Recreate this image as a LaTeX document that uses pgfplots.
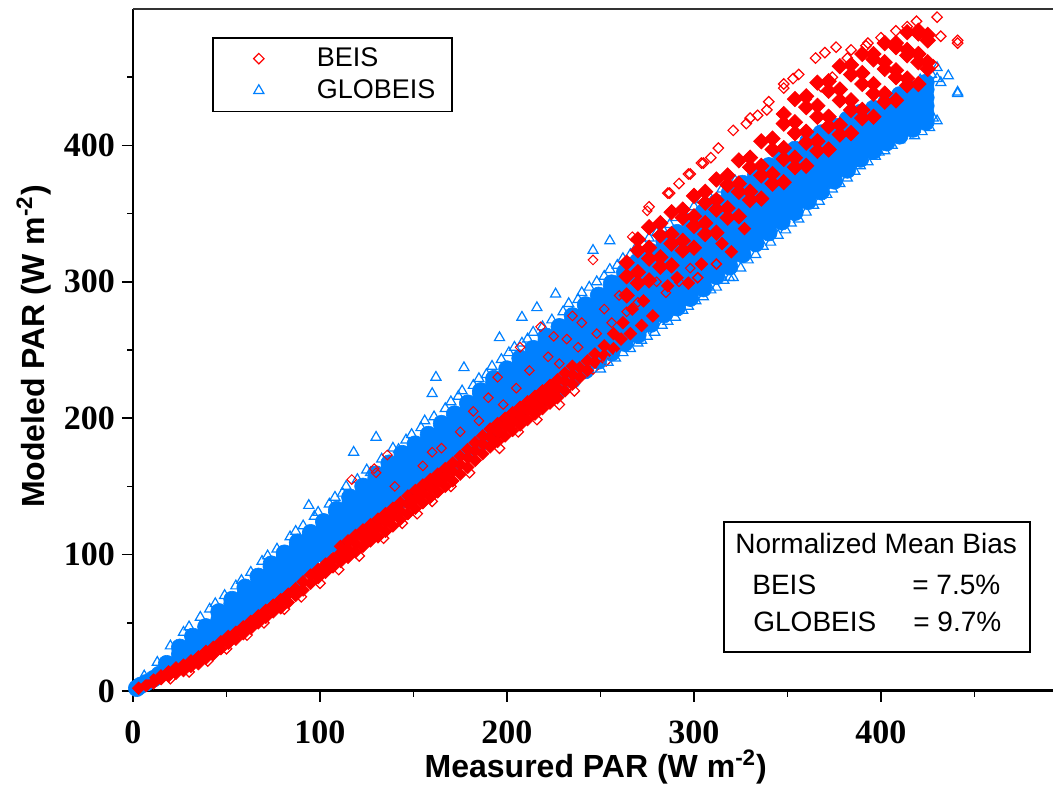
\documentclass[border=0pt]{standalone}
\usepackage{pgfplots}
\pgfplotsset{compat=1.18}
\usepackage{fontspec}
\setmainfont{Liberation Sans}
\newfontfamily\tickfont{Liberation Serif}
\definecolor{beis}{RGB}{255,0,0}
\definecolor{globeis}{RGB}{0,128,255}
\begin{document}
\begin{tikzpicture}
\begin{axis}[name=ax,
  scale only axis, width=460pt, height=341pt,
  xmin=0, xmax=492, ymin=0, ymax=500,
  axis x line*=bottom, axis y line*=left,
  x axis line style={-, line width=1.5pt},
  y axis line style={-, line width=1pt},
  xtick={0,100,200,300,400}, ytick={0,100,200,300,400},
  minor xtick={50,150,250,350,450}, minor ytick={50,150,250,350,450},
  tick align=outside, major tick length=5.5pt, minor tick length=2.8pt,
  tick style={line width=0.8pt, black},
  /pgf/number format/assume math mode=true,
  tick label style={font=\tickfont\bfseries\fontsize{17}{17}\selectfont},
  xticklabel style={yshift=-6pt},
  xlabel={Measured PAR (W m\textsuperscript{-2})},
  ylabel={Modeled PAR (W m\textsuperscript{-2})},
  label style={font=\bfseries\fontsize{16}{16}\selectfont},
  xlabel style={at={(axis description cs:0.503,-0.1114)}, anchor=center},
  ylabel style={at={(axis description cs:-0.1076,0.505)}, anchor=center},
  clip=false,
  legend image code/.code={\path[draw=none] (0pt,0pt) (46pt,0pt); \draw[#1] plot[only marks] coordinates {(19pt,0pt)};},
  legend style={at={(0.0859,0.959)}, anchor=north west, draw=black, line width=0.8pt,
    font=\fontsize{13.5}{16}\selectfont, inner xsep=4pt, inner ysep=3pt, row sep=1pt,
    cells={anchor=west}},
]
\addlegendimage{color=beis, line width=0.6pt, mark=square, mark size=1.85pt, mark options={rotate=45}}
\addlegendentry{BEIS}
\addlegendimage{color=globeis, line width=0.6pt, mark=triangle, mark size=2.9pt}
\addlegendentry{GLOBEIS\,}

% GLOBEIS dense core
\addplot[forget plot, only marks, color=globeis, mark=*, mark size=4.2pt, mark options={fill=globeis, line width=0.3pt}] coordinates {
(2,2)(4,4)(7,6)(11,9)(14,12)(18,15)(18,20)(21,19)(25,22)(25,27)(25,32)
(32,29)(32,34)(32,40)(39,35)(39,41)(39,47)(46,40)(46,46)(46,52)(46,58)
(53,46)(53,52)(53,58)(53,64)(53,67)(60,53)(60,59)(60,65)(60,71)(60,76)
(67,60)(67,66)(67,72)(67,78)(67,84)(74,67)(74,73)(74,79)(74,85)(74,91)(74,93)
(81,74)(81,80)(81,86)(81,92)(81,98)(81,101)(88,82)(88,88)(88,94)(88,100)(88,106)(88,109)
(95,90)(95,96)(95,102)(95,108)(95,114)(95,116)(102,100)(102,106)(102,112)(102,118)(102,124)
(109,107)(109,113)(109,119)(109,125)(109,131)(109,133)(116,113)(116,119)(116,125)(116,131)(116,137)(116,142)
(123,120)(123,126)(123,132)(123,138)(123,144)(123,150)
(130,126)(130,132)(130,138)(130,144)(130,150)(130,156)(130,159)
(137,133)(137,139)(137,145)(137,151)(137,157)(137,163)(137,167)
(144,140)(144,146)(144,152)(144,158)(144,164)(144,170)(144,174)
(151,147)(151,153)(151,159)(151,165)(151,171)(151,177)(151,181)
(158,153)(158,159)(158,165)(158,171)(158,177)(158,183)(158,188)
(165,160)(165,166)(165,172)(165,178)(165,184)(165,190)(165,196)
(172,167)(172,173)(172,179)(172,185)(172,191)(172,197)(172,203)
(179,175)(179,181)(179,187)(179,193)(179,199)(179,205)(179,211)
(186,182)(186,188)(186,194)(186,200)(186,206)(186,212)(186,218)(186,220)
(193,190)(193,196)(193,202)(193,208)(193,214)(193,220)(193,226)(193,229)
(200,197)(200,203)(200,209)(200,215)(200,221)(200,227)(200,233)(200,236)
(207,203)(207,209)(207,215)(207,221)(207,227)(207,233)(207,239)(207,244)
(214,209)(214,215)(214,221)(214,227)(214,233)(214,239)(214,245)(214,251)
(221,215)(221,221)(221,227)(221,233)(221,239)(221,245)(221,251)(221,257)(221,260)
(228,221)(228,227)(228,233)(228,239)(228,245)(228,251)(228,257)(228,263)(228,267)
(235,228)(235,234)(235,240)(235,246)(235,252)(235,258)(235,264)(235,270)(235,275)
(242,235)(242,241)(242,247)(242,253)(242,259)(242,265)(242,271)(242,277)(242,283)
(249,242)(249,248)(249,254)(249,260)(249,266)(249,272)(249,278)(249,284)(249,290)
(256,248)(256,254)(256,260)(256,266)(256,272)(256,278)(256,284)(256,290)(256,296)(256,299)
(263,255)(263,261)(263,267)(263,273)(263,279)(263,285)(263,291)(263,297)(263,303)(263,307)
(270,261)(270,267)(270,273)(270,279)(270,285)(270,291)(270,297)(270,303)(270,309)(270,315)
(277,269)(277,275)(277,281)(277,287)(277,293)(277,299)(277,305)(277,311)(277,317)(277,322)
(284,276)(284,282)(284,288)(284,294)(284,300)(284,306)(284,312)(284,318)(284,324)(284,330)
(291,281)(291,287)(291,293)(291,299)(291,305)(291,311)(291,317)(291,323)(291,329)(291,336)
(298,288)(298,294)(298,300)(298,306)(298,312)(298,318)(298,324)(298,330)(298,336)(298,344)
(305,295)(305,301)(305,307)(305,313)(305,319)(305,325)(305,331)(305,337)(305,343)(305,351)
(312,304)(312,310)(312,316)(312,322)(312,328)(312,334)(312,340)(312,346)(312,352)(312,358)
(319,311)(319,317)(319,323)(319,329)(319,335)(319,341)(319,347)(319,353)(319,359)(319,365)
(326,320)(326,326)(326,332)(326,338)(326,344)(326,350)(326,356)(326,362)(326,368)(326,372)
(333,328)(333,334)(333,340)(333,346)(333,352)(333,358)(333,364)(333,370)(333,378)
(340,336)(340,342)(340,348)(340,354)(340,360)(340,366)(340,372)(340,378)(340,385)
(347,344)(347,350)(347,356)(347,362)(347,368)(347,374)(347,380)(347,386)(347,391)
(354,351)(354,357)(354,363)(354,369)(354,375)(354,381)(354,387)(354,393)(354,397)
(361,359)(361,365)(361,371)(361,377)(361,383)(361,389)(361,395)(361,403)
(368,366)(368,372)(368,378)(368,384)(368,390)(368,396)(368,402)(368,409)
(375,374)(375,380)(375,386)(375,392)(375,398)(375,404)(375,410)(375,414)
(382,382)(382,388)(382,394)(382,400)(382,406)(382,412)(382,419)
(389,390)(389,396)(389,402)(389,408)(389,414)(389,420)(389,424)
(396,396)(396,402)(396,408)(396,414)(396,420)(396,427)
(403,402)(403,408)(403,414)(403,420)(403,426)(403,432)
(410,407)(410,413)(410,419)(410,425)(410,431)(410,437)
(417,412)(417,418)(417,424)(417,430)(417,436)(417,441)
(424,417)(424,423)(424,429)(424,435)(424,441)(424,446)
};

% BEIS dense lower strip
\addplot[forget plot, only marks, color=beis, mark=square*, mark size=2.2pt, mark options={rotate=45, fill=beis, line width=0.4pt}] coordinates {
(3,2)(7,4)(11,6)(11,8)(15,9)(15,11)(19,11)(19,14)(23,13)(23,17)(27,15)(27,19)(31,18)(31,22)
(35,20)(35,25)(39,24)(39,29)(43,27)(43,32)(47,31)(47,36)(51,35)(51,40)(55,38)(55,43)
(59,42)(59,47)(63,46)(63,51)(67,50)(67,55)(71,54)(71,59)(75,58)(75,63)(79,61)(79,67)
(83,65)(83,71)(87,70)(87,75)(91,74)(91,80)(95,79)(95,85)(99,83)(99,89)(103,87)(103,93)
(107,91)(107,97)(111,95)(111,101)(111,106)(115,98)(115,104)(115,110)(119,102)(119,108)(119,114)
(123,106)(123,112)(123,118)(127,110)(127,116)(127,122)(131,113)(131,120)(131,126)
(135,117)(135,124)(135,130)(139,121)(139,128)(139,134)(143,126)(143,132)(143,138)
(147,130)(147,137)(147,143)(151,134)(151,141)(151,147)(155,138)(155,145)(155,151)
(159,142)(159,149)(159,155)(163,146)(163,153)(163,159)(167,150)(167,157)(167,163)
(171,154)(171,161)(171,167)(175,159)(175,166)(175,172)(179,164)(179,171)(179,177)
(183,169)(183,176)(183,182)(187,174)(187,181)(187,187)(191,179)(191,186)(191,192)
(195,183)(195,190)(195,196)(199,187)(199,194)(199,200)(203,191)(203,198)(203,204)
(207,195)(207,202)(207,208)(211,199)(211,206)(211,212)(215,203)(215,210)(215,216)
(219,207)(219,214)(219,220)(223,211)(223,218)(223,224)(227,215)(227,222)(227,228)
(231,220)(231,227)(231,233)(235,225)(235,232)(235,238)(239,230)(239,237)(243,235)(243,242)
(247,241)(247,247)(252,246)(252,253)(257,251)(257,262)(261,258)(262,270)(266,262)(267,280)
(272,268)(273,286)(278,275)(286,297)(291,303)(297,299)(304,313)(315,328)(320,322)(327,339)
};

% BEIS lower fringe (open)
\addplot[forget plot, only marks, color=beis, line width=0.6pt, mark=square, mark size=1.85pt, mark options={rotate=45}] coordinates {
(20,9)(30,14)(40,22)(50,31)(61,41)(70,50)(81,60)(90,69)(100,79)(110,89)(121,99)(134,112)
(144,123)(152,130)(160,139)(170,150)(180,160)(196,178)(206,190)(216,199)(228,210)(236,220)
(246,236)(253,242)
};

% GLOBEIS fringe and outliers (open)
\addplot[forget plot, only marks, color=globeis, line width=0.6pt, mark=triangle, mark size=2.9pt] coordinates {
(6,11)(13,21)(20,33)(27,43)(30,47)(36,54)(41,60)(44,64)(49,70)(55,77)(58,81)(63,87)(69,95)
(72,99)(77,104)(84,113)(87,117)(91,121)(94,136)(97,128)(99,131)(105,137)(108,142)(112,145)
(114,150)(118,175)(120,155)(125,162)(127,160)(130,186)(133,170)(139,178)(142,177)(146,184)
(149,188)(154,193)(156,198)(160,218)(162,230)(161,201)(167,207)(170,212)(174,216)(177,237)
(176,220)(182,224)(185,229)(189,232)(192,238)(196,259)(197,243)(201,248)(204,252)(208,274)
(208,255)(211,258)(216,281)(214,263)(219,267)(224,272)(226,291)(230,278)(233,284)(238,287)
(240,292)(244,296)(246,323)(248,300)(252,304)(255,330)(255,309)(259,312)(262,317)(266,320)
(269,325)(273,328)(276,332)(280,336)(283,339)(287,342)(290,347)(295,350)(300,355)(304,360)
(308,363)(315,368)(322,374)
(250,236)(254,241)(258,244)(262,248)(266,251)(270,255)(272,257)(275,260)(279,263)(283,268)
(286,271)(290,274)(294,279)(297,282)(301,286)(305,289)(309,294)(312,296)(316,301)(319,303)
(321,303)(325,310)(329,316)(333,320)(337,326)(341,329)(345,334)(349,338)(352,343)(356,346)
(360,351)(364,356)(367,359)(371,364)(374,368)(374,374)(378,372)(382,376)(386,381)(389,394)
(389,385)(393,388)(397,392)(399,395)(402,396)(406,400)(410,404)(412,413)(415,416)(418,407)
(422,410)(426,413)(428,420)(430,418)(430,457)(430,449)(421,448)(441,438)(441,439)(432,446)
(436,451)(427,452)(425,446)
};

% BEIS scattered within the band (open)
\addplot[forget plot, only marks, color=beis, line width=0.5pt, mark=square, mark size=1.7pt, mark options={rotate=45}] coordinates {
(117,155)(129,163)(136,173)(130,160)(140,150)(155,165)(160,175)(165,178)(175,190)(182,205)
(185,198)(190,215)(195,230)(198,210)(205,222)(207,252)(212,235)(218,267)(222,245)(225,260)
(228,240)(232,258)(235,275)(238,252)(240,270)(246,316)(248,262)(252,280)(256,270)(260,290)
(264,278)(267,333)(270,285)(275,352)(280,300)(285,292)(292,300)(298,310)(302,303)(312,313)
};

% BEIS upper part, dense
\addplot[forget plot, only marks, color=beis, mark=square*, mark size=2.7pt, mark options={rotate=45, fill=beis, line width=0.4pt}] coordinates {
(264,290)(264,304)(264,314)(270,299)(270,307)(270,323)(270,331)(276,301)(276,317)(276,325)(276,340)
(282,311)(282,318)(282,334)(282,343)(288,312)(288,328)(288,335)(288,351)(294,323)(294,330)(294,347)(294,353)
(300,325)(300,341)(300,348)(300,363)(306,335)(306,343)(306,358)(306,366)(312,336)(312,353)(312,360)(312,375)
(318,347)(318,354)(318,371)(318,378)(324,348)(324,366)(324,372)(324,389)(330,360)(330,366)(330,384)(330,391)
(336,361)(336,378)(336,385)(336,403)(342,372)(342,379)(342,397)(342,405)
(348,373)(348,390)(348,398)(348,416)(348,423)(354,384)(354,391)(354,409)(354,417)(354,434)
(360,385)(360,402)(360,410)(360,428)(360,436)(366,396)(366,403)(366,421)(366,429)(366,446)
(372,397)(372,414)(372,421)(372,440)(372,447)(378,408)(378,415)(378,433)(378,441)(378,458)
(384,409)(384,426)(384,433)(384,452)(384,459)(390,420)(390,426)(390,445)(390,453)(390,467)
(396,421)(396,438)(396,445)(396,463)(396,467)(402,432)(402,438)(402,456)(402,461)(402,475)
(408,433)(408,450)(408,455)(408,472)(408,475)(414,444)(414,449)(414,466)(414,470)(414,483)
(420,445)(420,461)(420,467)(420,482)(420,484)(425,456)(425,461)(425,477)(425,481)
};

% BEIS upper fringe and outliers (open)
\addplot[forget plot, only marks, color=beis, line width=0.6pt, mark=square, mark size=1.85pt, mark options={rotate=45}] coordinates {
(276,355)(286,365)(287,365)(292,372)(297,379)(298,379)(304,387)(305,387)(309,391)(313,398)
(321,411)(328,416)(330,420)(334,422)(339,426)(340,432)(348,442)(348,445)(353,449)(356,452)
(360,434)(365,464)(368,443)(370,468)(374,450)(376,472)(382,464)(384,470)(392,473)(393,475)
(400,479)(408,484)(414,487)(415,467)(419,491)(425,482)(428,459)(430,494)(432,480)(441,475)
(441,477)(302,303)(312,313)
};

\draw[line width=1pt, black!80] (rel axis cs:0,1) -- (rel axis cs:1,1);
\draw[line width=0.8pt] (rel axis cs:0.6424,0.2478) rectangle (rel axis cs:0.9750,0.0572);
\node[anchor=base west, inner sep=0pt, font=\fontsize{14}{14}\selectfont] at (rel axis cs:0.6543,0.2023) {Normalized Mean Bias};
\node[anchor=base west, inner sep=0pt, font=\fontsize{14}{14}\selectfont] at (rel axis cs:0.6728,0.1422) {BEIS};
\node[anchor=base west, inner sep=0pt, font=\fontsize{14}{14}\selectfont] at (rel axis cs:0.8467,0.1422) {= 7.5\%};
\node[anchor=base west, inner sep=0pt, font=\fontsize{14}{14}\selectfont] at (rel axis cs:0.6739,0.0865) {GLOBEIS};
\node[anchor=base west, inner sep=0pt, font=\fontsize{14}{14}\selectfont] at (rel axis cs:0.8478,0.0865) {= 9.7\%};
\end{axis}
\pgfresetboundingbox
\path[use as bounding box] ([xshift=-66.5pt,yshift=-54.5pt]ax.south west) rectangle ([yshift=4.5pt]ax.north east);
\end{tikzpicture}
\end{document}
